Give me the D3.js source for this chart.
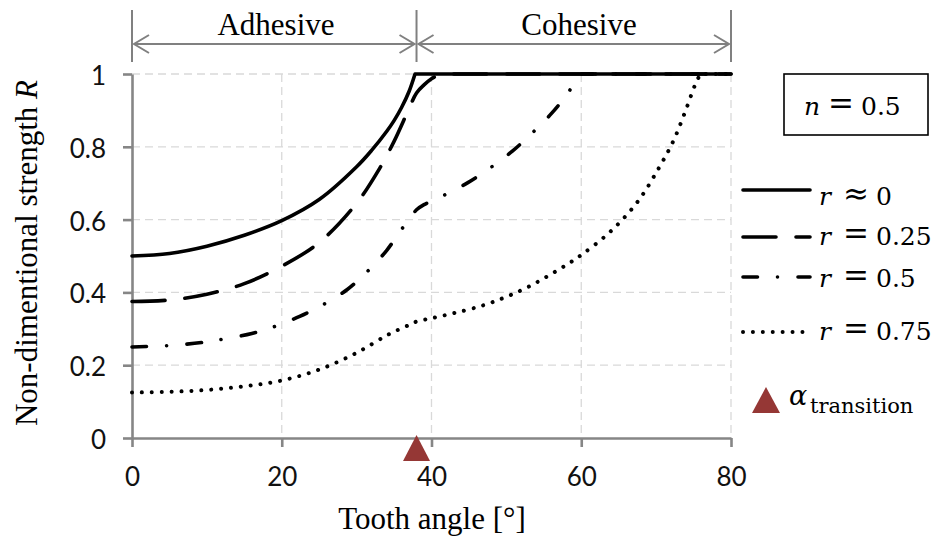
<!DOCTYPE html>
<html>
<head>
<meta charset="utf-8">
<script src="https://cdn.jsdelivr.net/npm/d3@7"></script>
<style>
  html, body { margin: 0; padding: 0; background: #fff; }
  svg { display: block; }
</style>
</head>
<body>
<svg id="chart" width="938" height="539"></svg>
<script>
// Non-dimensional strength R versus tooth angle, n = 0.5
const angleR0   = [0, 5, 10, 15, 20, 25, 30, 32, 34, 35, 36, 37, 37.8, 80];
const valueR0   = [0.5, 0.507, 0.527, 0.557, 0.597, 0.655, 0.745, 0.79, 0.842, 0.872, 0.908, 0.952, 1.0, 1.0];

const angleR025 = [0, 5, 10, 15, 20, 25, 30, 33, 35, 37, 38, 39, 40, 41, 42, 80];
const valueR025 = [0.375, 0.379, 0.395, 0.424, 0.472, 0.537, 0.645, 0.738, 0.815, 0.905, 0.948, 0.97, 0.987, 0.997, 1.0, 1.0];

const angleR05  = [0, 5, 10, 12, 16, 19, 22.4, 25.6, 28.75, 31.5, 34, 36, 37.6, 38, 39, 40, 41.6, 44.8, 47.9, 50.8, 53.5, 56, 58.3, 59.7, 80];
const valueR05  = [0.25, 0.254, 0.264, 0.271, 0.287, 0.306, 0.334, 0.367, 0.408, 0.459, 0.515, 0.573, 0.617, 0.627, 0.641, 0.651, 0.666, 0.701, 0.743, 0.788, 0.839, 0.891, 0.95, 1.0, 1.0];

const angleR075 = [0, 5, 10, 15, 20, 25, 30, 34.4, 37.5, 38, 40, 43, 47, 50, 53, 57.5, 60, 64, 67.6, 70.4, 72.3, 73.8, 75.2, 75.9, 80];
const valueR075 = [0.125, 0.127, 0.132, 0.142, 0.158, 0.188, 0.234, 0.286, 0.315, 0.32, 0.329, 0.343, 0.365, 0.388, 0.416, 0.469, 0.503, 0.569, 0.651, 0.743, 0.816, 0.892, 0.97, 1.0, 1.0];

const seriesNames = ["r ≈ 0", "r = 0.25", "r = 0.5", "r = 0.75"];
const xTicks = [0, 20, 40, 60, 80];
const yTicks = [0, 0.2, 0.4, 0.6, 0.8, 1];
const alphaTransition = 38;
const regionLabels = ["Adhesive", "Cohesive"];

const series = [
  { name: seriesNames[0], angles: angleR0,   values: valueR0,   dash: null },
  { name: seriesNames[1], angles: angleR025, values: valueR025, dash: "33,20" },
  { name: seriesNames[2], angles: angleR05,  values: valueR05,  dash: "14.5,20,0.01,20.5" },
  { name: seriesNames[3], angles: angleR075, values: valueR075, dash: "0.01,9.9" }
];

const svg = d3.select("#chart");
const x = d3.scaleLinear().domain([0, 80]).range([132, 731]);
const y = d3.scaleLinear().domain([0, 1]).range([438, 74]);

const serif = "'Liberation Serif', 'Times New Roman', serif";
const mathFont = "'DejaVu Serif', serif";
const axisGrey = "#868686";
const markerRed = "#953735";

// grid
const grid = svg.append("g").attr("stroke", "#d9d9d9").attr("stroke-width", 1.3).attr("stroke-dasharray", "8,5");
yTicks.filter(v => v > 0).forEach(v => {
  grid.append("line").attr("x1", x(0)).attr("x2", x(80)).attr("y1", y(v)).attr("y2", y(v));
});
xTicks.filter(v => v > 0).forEach(v => {
  grid.append("line").attr("x1", x(v)).attr("x2", x(v)).attr("y1", y(1)).attr("y2", y(0));
});

// axes
const yAxis = d3.axisLeft(y).tickValues(yTicks).tickSize(9).tickSizeOuter(0).tickPadding(17).tickFormat(d3.format("~g"));
const xAxis = d3.axisBottom(x).tickValues(xTicks).tickSize(9).tickSizeOuter(0).tickPadding(21).tickFormat(d3.format("~g"));

function styleAxis(g) {
  g.select(".domain").attr("stroke", axisGrey).attr("stroke-width", 2.6);
  g.selectAll(".tick line").attr("stroke", axisGrey).attr("stroke-width", 2.6);
  g.selectAll(".tick text").attr("fill", "#111").style("font-family", "Lato, 'Open Sans', sans-serif").style("font-size", "26px");
}
const gy = svg.append("g").attr("transform", `translate(${x(0)},0)`).call(yAxis).call(styleAxis);
gy.selectAll(".tick text").attr("dy", "0.4em");
const gx = svg.append("g").attr("transform", `translate(0,${y(0)})`).call(xAxis).call(styleAxis);

// curves: smooth rise, then flat at R = 1
const rise = d3.line().x(d => x(d[0])).y(d => y(d[1])).curve(d3.curveCatmullRom.alpha(0.5));
series.forEach(s => {
  const pts = s.angles.map((a, i) => [a, s.values[i]]);
  const top = pts.findIndex(p => p[1] >= 1);
  const path = rise(pts.slice(0, top + 1)) + "L" + x(pts[pts.length - 1][0]) + "," + y(pts[pts.length - 1][1]);
  svg.append("path")
    .attr("d", path)
    .attr("fill", "none")
    .attr("stroke", "#000")
    .attr("stroke-width", s.dash && s.dash.startsWith("0.01") ? 4 : 3.6)
    .attr("stroke-linecap", "round")
    .attr("stroke-linejoin", "round")
    .attr("stroke-dasharray", s.dash);
});

// transition marker on the axis
function triangle(cx, apexY, baseY, half) {
  return `M${cx},${apexY}L${cx + half},${baseY}L${cx - half},${baseY}Z`;
}
svg.append("path").attr("d", triangle(x(alphaTransition), y(0) - 3, y(0) + 23, 13.5)).attr("fill", markerRed);

// adhesive / cohesive span arrows
const ann = svg.append("g").attr("stroke", "#808080").attr("stroke-width", 2).attr("fill", "none");
[0, alphaTransition, 80].forEach(v => {
  ann.append("line").attr("x1", x(v)).attr("x2", x(v)).attr("y1", 10).attr("y2", 62);
});
const arrowY = 44;
[[0, alphaTransition], [alphaTransition, 80]].forEach(([a, b]) => {
  const xa = x(a) + 2, xb = x(b) - 2;
  ann.append("line").attr("x1", xa).attr("x2", xb).attr("y1", arrowY).attr("y2", arrowY);
  ann.append("path").attr("d", `M${xa + 15},${arrowY - 9}L${xa},${arrowY}L${xa + 15},${arrowY + 9}`);
  ann.append("path").attr("d", `M${xb - 15},${arrowY - 9}L${xb},${arrowY}L${xb - 15},${arrowY + 9}`);
});
svg.append("text").attr("x", 276).attr("y", 35).attr("text-anchor", "middle")
  .style("font-family", serif).style("font-size", "31px").text(regionLabels[0]);
svg.append("text").attr("x", 579).attr("y", 35).attr("text-anchor", "middle")
  .style("font-family", serif).style("font-size", "31px").text(regionLabels[1]);

// axis titles
svg.append("text").attr("x", 432).attr("y", 529).attr("text-anchor", "middle")
  .style("font-family", serif).style("font-size", "31px").text("Tooth angle [°]");
const yt = svg.append("text").attr("transform", "translate(37,253) rotate(-90)").attr("text-anchor", "middle")
  .style("font-family", serif).style("font-size", "31px");
yt.append("tspan").text("Non-dimentional strength ");
yt.append("tspan").style("font-style", "italic").text("R");

// legend
const leg = svg.append("g");
leg.append("rect").attr("x", 784).attr("y", 74).attr("width", 144).attr("height", 61)
  .attr("fill", "#fff").attr("stroke", "#000").attr("stroke-width", 1.6);
function mathLabel(xv, yv, sym, op, num) {
  leg.append("text").attr("x", xv).attr("y", yv).style("font-family", mathFont).style("font-style", "italic").style("font-size", "25px").text(sym);
  leg.append("text").attr("x", xv + 37).attr("y", yv - 1).attr("text-anchor", "middle").style("font-family", mathFont).style("font-size", "31px").text(op);
  leg.append("text").attr("x", xv + 57).attr("y", yv).style("font-family", mathFont).style("font-size", "25px").text(num);
}
mathLabel(804, 115, "n", "=", "0.5");

const legendRows = [190, 237, 277, 332];
const legendBase = [205, 245, 287, 340];
series.forEach((s, i) => {
  leg.append("line").attr("x1", 743).attr("x2", 810).attr("y1", legendRows[i]).attr("y2", legendRows[i])
    .attr("stroke", "#000").attr("stroke-width", s.dash && s.dash.startsWith("0.01") ? 4 : 3.6)
    .attr("stroke-linecap", "round").attr("stroke-dasharray", s.dash);
  const parts = s.name.split(" ");
  mathLabel(819, legendBase[i], parts[0], parts[1], parts[2]);
});
leg.append("path").attr("d", triangle(766, 387, 413, 14)).attr("fill", markerRed);
leg.append("text").attr("x", 789).attr("y", 405).style("font-family", mathFont).style("font-style", "italic").style("font-size", "27px").text("α");
leg.append("text").attr("x", 810).attr("y", 413).style("font-family", mathFont).style("font-size", "21px").text("transition");
</script>
</body>
</html>
